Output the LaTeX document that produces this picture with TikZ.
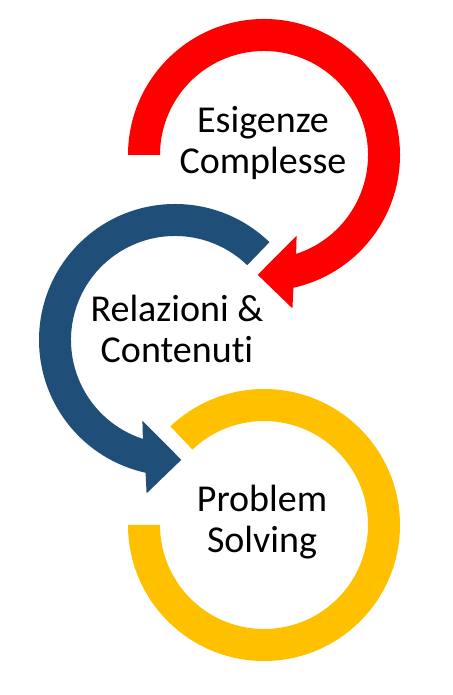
\documentclass[tikz,border=0pt]{standalone}
\usepackage{fontspec}
\setmainfont[Ligatures={NoCommon,NoRare}]{Carlito}
\usepackage{tikz}
\definecolor{cycleRed}{RGB}{255,0,0}
\definecolor{cycleBlue}{RGB}{31,78,121}
\definecolor{cycleYellow}{RGB}{255,192,0}

\begin{document}
\begin{tikzpicture}[x=1pt, y=1pt,
    cycletext/.style={align=center, anchor=base, inner sep=0pt,
    font=\fontsize{38}{41}\selectfont}
]
\useasboundingbox (0,0) rectangle (452,695);
% ring centres
\coordinate (rc) at (264,540);
\coordinate (bc) at (175,355);
\coordinate (yc) at (264,170);

% Esigenze (red, clockwise arrow)
\fill[cycleRed] ([shift={(180:136)}]rc) arc[start angle=180, end angle=-77.5, radius=136]
    -- ([shift={(-79.5:156)}]rc) -- ([shift={(-93:120)}]rc) -- ([shift={(-68:87)}]rc)
    -- ([shift={(-72:104)}]rc) arc[start angle=-72, end angle=180, radius=104] -- cycle;
% Relazioni (blue, counter-clockwise arrow)
\fill[cycleBlue] ([shift={(46:136)}]bc) arc[start angle=46, end angle=257.5, radius=136]
    -- ([shift={(259.5:156)}]bc) -- ([shift={(273:120)}]bc) -- ([shift={(248:87)}]bc)
    -- ([shift={(252:104)}]bc) arc[start angle=252, end angle=46, radius=104] -- cycle;
% Problem Solving (yellow ring)
\fill[cycleYellow] ([shift={(180:136)}]yc) arc[start angle=180, end angle=493.5, radius=136]
    -- ([shift={(133.5:104)}]yc) arc[start angle=493.5, end angle=180, radius=104] -- cycle;

\node[cycletext] (esig) at (263,521) {Esigenze\\Complesse};
\node[cycletext] (rela) at (177,332) {Relazioni \&\\Contenuti};
\node[cycletext] (prob) at (262,142) {Problem\\Solving};
\end{tikzpicture}
\end{document}
